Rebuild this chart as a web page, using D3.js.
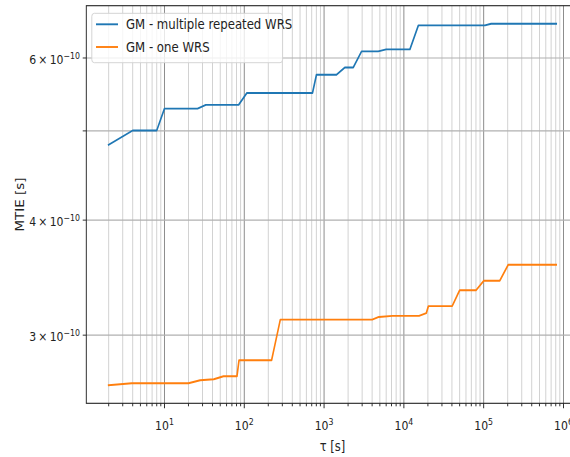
<!DOCTYPE html>
<html>
<head>
<meta charset="utf-8">
<script src="https://cdn.jsdelivr.net/npm/d3@7"></script>
<style>
  html, body { margin: 0; padding: 0; background: #fff; }
  svg { display: block; }
  text { font-family: "DejaVu Sans", sans-serif; fill: #222; }
</style>
</head>
<body>
<svg id="chart" width="570" height="457"></svg>
<script>
// Observation interval tau [s]
const tauMulti = [2, 4, 8, 10, 26, 33, 85, 108, 716, 803, 1430, 1820, 2320, 2950, 4770, 6000, 11900, 15200, 103500, 124000, 811000];
const mtieMulti = [4.83e-10, 5.005e-10, 5.005e-10, 5.287e-10, 5.287e-10, 5.336e-10, 5.336e-10, 5.498e-10, 5.498e-10, 5.754e-10, 5.754e-10, 5.86e-10, 5.86e-10, 6.10e-10, 6.10e-10, 6.13e-10, 6.13e-10, 6.51e-10, 6.51e-10, 6.536e-10, 6.536e-10];

const tauOne = [2, 3.9, 20, 28, 41.5, 55, 81, 86, 220, 283, 4010, 4860, 7180, 15500, 19100, 20300, 40300, 50000, 80500, 100000, 159000, 203000, 811000];
const mtieOne = [2.647e-10, 2.66e-10, 2.66e-10, 2.68e-10, 2.687e-10, 2.707e-10, 2.707e-10, 2.818e-10, 2.818e-10, 3.119e-10, 3.119e-10, 3.14e-10, 3.148e-10, 3.148e-10, 3.17e-10, 3.226e-10, 3.226e-10, 3.357e-10, 3.357e-10, 3.437e-10, 3.437e-10, 3.577e-10, 3.577e-10];

const seriesNames = ["GM - multiple repeated WRS", "GM - one WRS"];
const seriesColors = ["#1f77b4", "#ff7f0e"];

// y ticks (mantissa at 1e-10), labelled ones carry text
const yTickValues = [3e-10, 4e-10, 5e-10, 6e-10];
const yTickLabels = ["3", "4", "", "6"];
const xDecades = [1, 2, 3, 4, 5, 6];

// horizontal squeeze of the whole figure
const SX = 0.85;
const margin = { left: 86.3 / SX, top: 5.7 };
const plotW = (578.6 - 86.3) / SX;
const plotH = 403.3 - 5.7;

const svg = d3.select("#chart");
const root = svg.append("g").attr("transform", `scale(${SX},1)`);
const g = root.append("g").attr("transform", `translate(${margin.left},${margin.top})`);

// matplotlib-style 5% margins in log space
function logDomain(vals) {
  const lo = Math.log10(d3.min(vals)), hi = Math.log10(d3.max(vals));
  const m = (hi - lo) * 0.05;
  return [Math.pow(10, lo - m), Math.pow(10, hi + m)];
}
const x = d3.scaleLog().domain(logDomain(tauMulti.concat(tauOne))).range([0, plotW]);
const y = d3.scaleLog().domain(logDomain(mtieMulti.concat(mtieOne))).range([plotH, 0]);

// grid: minor x lines
const [x0, x1] = x.domain();
const minorX = [];
for (let e = 0; e <= 6; e++) {
  for (let k = 2; k <= 9; k++) {
    const v = k * Math.pow(10, e);
    if (v >= x0 && v <= x1) minorX.push(v);
  }
}
const majorX = xDecades.map(e => Math.pow(10, e)).filter(v => v >= x0 && v <= x1);

g.append("g").selectAll("line").data(minorX).join("line")
  .attr("x1", d => x(d)).attr("x2", d => x(d))
  .attr("y1", 0).attr("y2", plotH)
  .attr("stroke", "#cfcfcf").attr("stroke-width", 1.1);
g.append("g").selectAll("line").data(majorX).join("line")
  .attr("x1", d => x(d)).attr("x2", d => x(d))
  .attr("y1", 0).attr("y2", plotH)
  .attr("stroke", "#858585").attr("stroke-width", 1.1);
g.append("g").selectAll("line").data(yTickValues).join("line")
  .attr("x1", 0).attr("x2", plotW)
  .attr("y1", d => y(d)).attr("y2", d => y(d))
  .attr("stroke", "#b0b0b0").attr("stroke-width", 1.1);

// series
const lineGen = d3.line().x(d => x(d[0])).y(d => y(d[1]));
const seriesData = [d3.zip(tauMulti, mtieMulti), d3.zip(tauOne, mtieOne)];
seriesData.forEach((pts, i) => {
  g.append("path").datum(pts)
    .attr("d", lineGen)
    .attr("fill", "none")
    .attr("stroke", seriesColors[i])
    .attr("stroke-width", 1.9)
    .attr("stroke-linejoin", "round")
    .attr("stroke-linecap", "square");
});

// spines
g.append("rect").attr("x", 0).attr("y", 0).attr("width", plotW).attr("height", plotH)
  .attr("fill", "none").attr("stroke", "#222").attr("stroke-width", 1.1);

// x ticks
const xt = g.append("g").attr("transform", `translate(0,${plotH})`);
xt.selectAll("line.minor").data(minorX).join("line").attr("class", "minor")
  .attr("x1", d => x(d)).attr("x2", d => x(d)).attr("y1", 0).attr("y2", 3)
  .attr("stroke", "#222").attr("stroke-width", 1);
xt.selectAll("line.major").data(majorX).join("line").attr("class", "major")
  .attr("x1", d => x(d)).attr("x2", d => x(d)).attr("y1", 0).attr("y2", 5)
  .attr("stroke", "#222").attr("stroke-width", 1.1);
const xl = xt.selectAll("text").data(majorX).join("text")
  .attr("x", d => x(d)).attr("y", 26.5)
  .attr("text-anchor", "middle").attr("font-size", 12.8);
xl.append("tspan").text("10");
xl.append("tspan").attr("dy", -5).attr("font-size", 9.2).text(d => Math.round(Math.log10(d)));

// y ticks
const yt = g.append("g");
yt.selectAll("line").data(yTickValues).join("line")
  .attr("x1", -4.2).attr("x2", 0).attr("y1", d => y(d)).attr("y2", d => y(d))
  .attr("stroke", "#222").attr("stroke-width", 1);
const labelled = yTickValues.map((v, i) => ({ v, t: yTickLabels[i] })).filter(d => d.t);
const yl = yt.selectAll("text").data(labelled).join("text")
  .attr("x", -7.5).attr("y", d => y(d.v) + 6)
  .attr("text-anchor", "end").attr("font-size", 12.8);
yl.append("tspan").text(d => d.t + "\u2009\u00d7\u200910");
yl.append("tspan").attr("dy", -5).attr("font-size", 9.2).text("\u221210");

// axis labels
root.append("text")
  .attr("x", margin.left + plotW / 2).attr("y", 451.5)
  .attr("text-anchor", "middle").attr("font-size", 13.5)
  .text("\u03c4 [s]");
root.append("text")
  .attr("transform", `translate(${24 / SX},${margin.top + plotH / 2}) rotate(-90)`)
  .attr("text-anchor", "middle").attr("font-size", 13.5)
  .text("MTIE [s]");

// legend
const lg = root.append("g");
lg.append("rect")
  .attr("x", 91.8 / SX).attr("y", 13.3)
  .attr("width", (282.6 - 91.8) / SX).attr("height", 62.7 - 13.3)
  .attr("rx", 3).attr("ry", 3)
  .attr("fill", "#fff").attr("fill-opacity", 0.8)
  .attr("stroke", "#d0d0d0").attr("stroke-width", 1);
const rows = [24.3, 47];
seriesNames.forEach((name, i) => {
  lg.append("line")
    .attr("x1", 96 / SX).attr("x2", 118 / SX)
    .attr("y1", rows[i]).attr("y2", rows[i])
    .attr("stroke", seriesColors[i]).attr("stroke-width", 1.9);
  lg.append("text")
    .attr("x", 126 / SX).attr("y", rows[i] + 5)
    .attr("font-size", 13.8)
    .text(name);
});
</script>
</body>
</html>
